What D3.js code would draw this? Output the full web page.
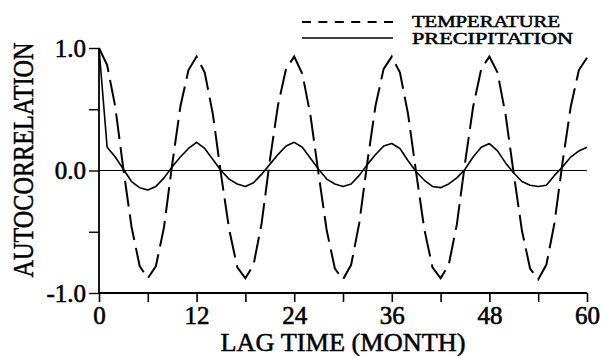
<!DOCTYPE html>
<html>
<head>
<meta charset="utf-8">
<script src="https://cdn.jsdelivr.net/npm/d3@7"></script>
<style>
  html, body { margin: 0; padding: 0; background: #fff; }
  svg { display: block; }
  text { font-family: "Liberation Serif", "Times New Roman", Times, serif; fill: #000; }
</style>
</head>
<body>
<svg id="chart" width="606" height="356"></svg>
<script>
// ---- data ----
const lags = d3.range(0, 61);
const temperature = [
  1.00, 0.86, 0.52, 0.01, -0.46, -0.78, -0.88, -0.78, -0.46, 0.05, 0.52, 0.82,
  0.93, 0.80, 0.46, -0.03, -0.48, -0.79, -0.88, -0.77, -0.43, 0.08, 0.53, 0.83,
  0.93, 0.79, 0.45, -0.03, -0.49, -0.80, -0.89, -0.77, -0.43, 0.07, 0.53, 0.83,
  0.93, 0.80, 0.46, -0.02, -0.48, -0.79, -0.88, -0.77, -0.44, 0.06, 0.52, 0.83,
  0.93, 0.80, 0.45, -0.03, -0.49, -0.80, -0.89, -0.77, -0.43, 0.07, 0.52, 0.82,
  0.92
];
const precipitation = [
  1.00, 0.19, 0.11, 0.01, -0.09, -0.14, -0.16, -0.13, -0.06, 0.03, 0.11, 0.18,
  0.23, 0.18, 0.09, 0.00, -0.07, -0.11, -0.13, -0.10, -0.03, 0.05, 0.13, 0.20,
  0.23, 0.19, 0.10, 0.01, -0.07, -0.11, -0.13, -0.11, -0.04, 0.05, 0.13, 0.20,
  0.22, 0.18, 0.08, -0.01, -0.08, -0.13, -0.14, -0.11, -0.06, 0.01, 0.11, 0.19,
  0.22, 0.16, 0.06, -0.02, -0.09, -0.12, -0.13, -0.12, -0.04, 0.03, 0.11, 0.16,
  0.19
];
const xTicks = [0, 6, 12, 18, 24, 30, 36, 42, 48, 54, 60];
const xTickLabels = [0, 12, 24, 36, 48, 60];
const yTicks = [-1.0, -0.5, 0.0, 0.5, 1.0];
const yTickLabels = [-1.0, 0.0, 1.0];
const seriesNames = ["TEMPERATURE", "PRECIPITATION"];
const xTitle = "LAG TIME (MONTH)";
const yTitle = "AUTOCORRELATION";

// ---- drawing ----
const svg = d3.select("#chart");
const x = d3.scaleLinear().domain([0, 60]).range([99, 587]);
const y = d3.scaleLinear().domain([-1, 1]).range([293, 48]);

// zero line
svg.append("line")
  .attr("x1", x(0)).attr("x2", x(60))
  .attr("y1", y(0)).attr("y2", y(0))
  .attr("stroke", "#000").attr("stroke-width", 1.2);

// axes
const xAxis = d3.axisBottom(x).tickValues(xTicks).tickSize(9)
  .tickFormat(d => xTickLabels.includes(d) ? d3.format("d")(d) : "");
const gx = svg.append("g").attr("transform", `translate(0,${y(-1)})`).call(xAxis);
gx.select(".domain").attr("stroke-width", 1.8).attr("d", `M${x(0)},0H${x(60)}`);
gx.selectAll(".tick line").attr("stroke-width", 1.6);
gx.selectAll(".tick text")
  .attr("y", 13).attr("dy", "0.71em")
  .style("font-size", "25px")
  .attr("stroke", "#000").attr("stroke-width", 0.6);

const yAxis = d3.axisLeft(y).tickValues(yTicks).tickSize(10)
  .tickFormat(d => yTickLabels.includes(d) ? d3.format(".1f")(d).replace("−", "-") : "");
const gy = svg.append("g").attr("transform", `translate(${x(0)},0)`).call(yAxis);
gy.select(".domain").attr("stroke-width", 1.8).attr("d", `M0,${y(1)}V${y(-1)}`);
gy.selectAll(".tick line").attr("stroke-width", 1.4);
gy.selectAll(".tick text")
  .attr("x", -13)
  .style("font-size", "25px")
  .attr("stroke", "#000").attr("stroke-width", 0.6);
svg.selectAll(".domain, .tick line").attr("stroke", "#000");

// lines
const line = d3.line().x((d, i) => x(lags[i])).y(d => y(d));
svg.append("path").datum(temperature)
  .attr("d", line).attr("fill", "none")
  .attr("stroke", "#000").attr("stroke-width", 2)
  .attr("stroke-dasharray", "26,8");
svg.append("path").datum(precipitation)
  .attr("d", line).attr("fill", "none")
  .attr("stroke", "#000").attr("stroke-width", 1.6)
  .attr("stroke-linejoin", "round");

// legend
svg.append("line").attr("x1", 302).attr("x2", 393).attr("y1", 22).attr("y2", 22)
  .attr("stroke", "#000").attr("stroke-width", 2).attr("stroke-dasharray", "9,7.4");
svg.append("line").attr("x1", 302).attr("x2", 393).attr("y1", 38).attr("y2", 38)
  .attr("stroke", "#000").attr("stroke-width", 1.6);
svg.append("text").attr("x", 412).attr("y", 26.5).text(seriesNames[0])
  .attr("textLength", 148).attr("lengthAdjust", "spacingAndGlyphs")
  .style("font-size", "16px").attr("stroke", "#000").attr("stroke-width", 0.5);
svg.append("text").attr("x", 412).attr("y", 44).text(seriesNames[1])
  .attr("textLength", 161).attr("lengthAdjust", "spacingAndGlyphs")
  .style("font-size", "16px").attr("stroke", "#000").attr("stroke-width", 0.5);

// axis titles
svg.append("text").attr("x", 343).attr("y", 351).attr("text-anchor", "middle")
  .text(xTitle).attr("textLength", 245).attr("lengthAdjust", "spacingAndGlyphs")
  .style("font-size", "25px").attr("stroke", "#000").attr("stroke-width", 0.5);
svg.append("text")
  .attr("transform", "translate(33,160) rotate(-90) scale(1,1.2)")
  .attr("text-anchor", "middle")
  .text(yTitle).attr("textLength", 235).attr("lengthAdjust", "spacingAndGlyphs")
  .style("font-size", "24px").attr("stroke", "#000").attr("stroke-width", 0.4);
</script>
</body>
</html>
